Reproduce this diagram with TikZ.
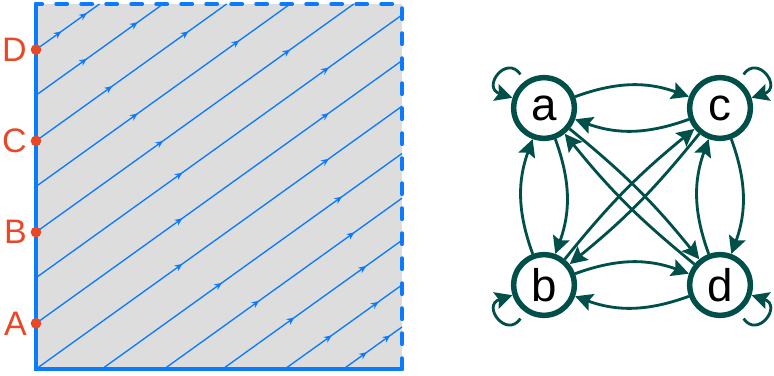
\documentclass[tikz,border=0pt]{standalone}
\usepackage{fontspec}
\setmainfont{Liberation Sans}
\usepackage{xcolor}
\definecolor{flow-blue}{RGB}{10,122,255}
\definecolor{sheet-gray}{RGB}{221,221,221}
\definecolor{point-red}{RGB}{232,72,38}
\definecolor{graph-teal}{RGB}{0,80,73}
\usepackage{tikz}
\usetikzlibrary{arrows.meta,decorations.markings}

\begin{document}
\begin{tikzpicture}[
    x=0.3mm, y=0.3mm,
    flowline/.style={
        flow-blue, line width=0.4mm,
        postaction={decorate},
        decoration={markings,
            mark=at position 0.4 with {\arrow{Stealth[length=2.3mm,width=2mm]}},
            mark=at position 0.8 with {\arrow{Stealth[length=2.3mm,width=2mm]}}}
    },
    rim/.style={flow-blue, line width=1.25mm, line cap=round},
    dot/.style={circle, fill=point-red, minimum size=3.2mm, inner sep=0pt},
    pointlabel/.style={anchor=east, inner sep=0pt, text=point-red,
        font=\fontsize{29}{29}\selectfont},
    state/.style={circle, draw=graph-teal, line width=1.65mm, fill=white,
        minimum size=18.2mm, inner sep=0pt, font=\fontsize{39}{39}\selectfont},
    link/.style={graph-teal, line width=0.85mm,
        -{Stealth[length=5.2mm,width=5.2mm,inset=0.9mm]}},
    selfloop/.style={link, looseness=4, shorten <=2.4mm}
]
\useasboundingbox (0,0) rectangle (774,375);

% Square with the straight-line flow
\begin{scope}[shift={(36,6)}, x=109.8mm, y=109.5mm]
    \fill[sheet-gray] (0,0) rectangle (1,1);

    % orbits leaving the left and the bottom side, slope 0.72
    \foreach \fx/\fy in {0/0, 0/0.125, 0/0.25, 0/0.375, 0/0.5, 0/0.625, 0/0.75, 0/0.875,
                         0.18/0, 0.35/0, 0.51/0, 0.68/0, 0.84/0} {
        \pgfmathsetmacro\ex{min(1, \fx+(1-\fy)/0.72)}
        \pgfmathsetmacro\ey{\fy+0.72*(\ex-\fx)}
        \draw[flowline] (\fx,\fy) -- (\ex,\ey);
    }

    % solid and dashed sides
    \draw[rim] (0,1) -- (0,0) -- (1,0);
    \draw[rim, dash pattern=on 3.2mm off 4.3mm] (1,0) -- (1,1) -- (0,1);

    % marked points on the left side
    \node[dot] (A) at (0,0.125) {};
    \node[dot] (B) at (0,0.375) {};
    \node[dot] (C) at (0,0.625) {};
    \node[dot] (D) at (0,0.875) {};
    \foreach \p in {A,B,C,D}
        \node[pointlabel] at ([xshift=-2.7mm]\p.center) {\p};
\end{scope}

% Graph on four states
\node[state] (a) at (544,267) {a};
\node[state] (c) at (720,267) {c};
\node[state] (b) at (544,90) {b};
\node[state] (d) at (720,90) {d};

% pairs along the sides
\draw[link] (a) to[bend left=20] (c);
\draw[link] (c) to[bend left=20] (a);
\draw[link] (b) to[bend left=20] (d);
\draw[link] (d) to[bend left=20] (b);
\draw[link] (a) to[bend left=20] (b);
\draw[link] (b) to[bend left=20] (a);
\draw[link] (c) to[bend left=20] (d);
\draw[link] (d) to[bend left=20] (c);

% pairs along the diagonals
\draw[link] (a) to[bend left=6] (d);
\draw[link] (d) to[bend left=6] (a);
\draw[link] (b) to[bend left=6] (c);
\draw[link] (c) to[bend left=6] (b);

% self loops
\draw[selfloop] (a) to[out=125, in=162] (a);
\draw[selfloop] (c) to[out=55, in=18] (c);
\draw[selfloop] (b) to[out=235, in=198] (b);
\draw[selfloop] (d) to[out=305, in=342] (d);
\end{tikzpicture}
\end{document}
